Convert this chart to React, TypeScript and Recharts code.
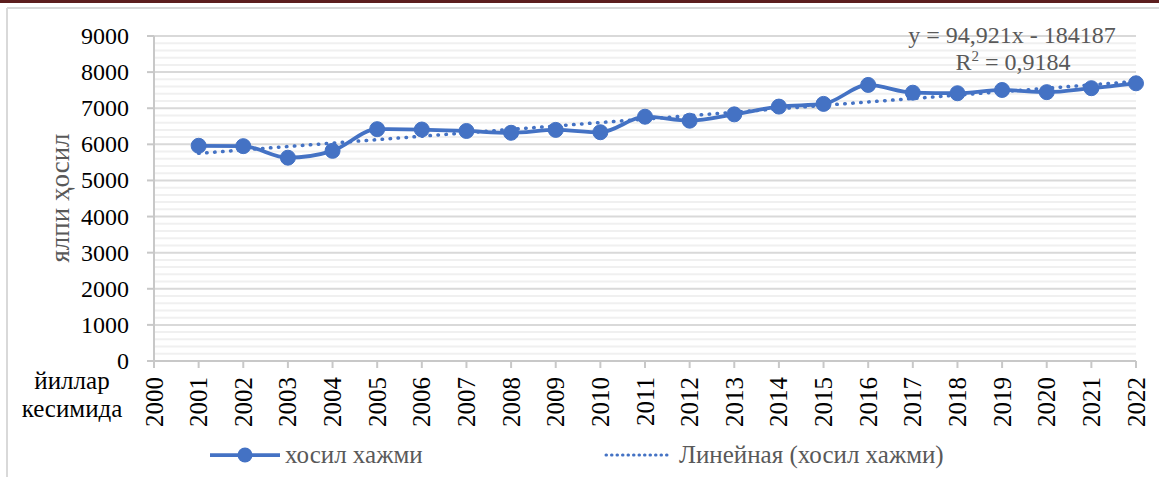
import React from "react";
import { LineChart, Line, XAxis, YAxis, CartesianGrid, Label, ReferenceLine } from "recharts";

const years = [2001, 2002, 2003, 2004, 2005, 2006, 2007, 2008, 2009, 2010, 2011, 2012, 2013, 2014, 2015, 2016, 2017, 2018, 2019, 2020, 2021, 2022];
const harvest = [5960, 5950, 5630, 5820, 6420, 6410, 6370, 6320, 6400, 6335, 6765, 6655, 6830, 7045, 7120, 7645, 7430, 7415, 7505, 7445, 7555, 7690];

// linear trend endpoints (y = 94,921x - 184187)
const trendYears = [2001, 2022];
const trendValues = [5750, 7743];

const xTicks = [2000, ...years];
const yTicks = [0, 1000, 2000, 3000, 4000, 5000, 6000, 7000, 8000, 9000];
const yMinor = [200, 400, 600, 800, 1200, 1400, 1600, 1800, 2200, 2400, 2600, 2800, 3200, 3400, 3600, 3800, 4200, 4400, 4600, 4800, 5200, 5400, 5600, 5800, 6200, 6400, 6600, 6800, 7200, 7400, 7600, 7800, 8200, 8400, 8600, 8800];

const seriesName = "хосил хажми";
const trendName = "Линейная (хосил хажми)";
const yTitle = "ялпи ҳосил";
const xTitle = ["йиллар", "кесимида"];
const eqText = "y = 94,921x - 184187";
const r2Text = "0,9184";

const BLUE = "#4472C4";
const GRAY = "#595959";
const FONT = "'Liberation Serif', 'Times New Roman', serif";

const data = years.map((y, i) => {
  const t = trendYears.indexOf(y);
  return { year: y, value: harvest[i], trend: t >= 0 ? trendValues[t] : null };
});

const YTick = (p: any) => (
  <text x={p.x} y={p.y} textAnchor="end" dominantBaseline="central" fontFamily={FONT} fontSize={24} fill="#000">
    {p.payload.value}
  </text>
);

const XTick = (p: any) => (
  <text
    transform={`translate(${p.x},${377}) rotate(-90)`}
    textAnchor="end"
    dominantBaseline="central"
    fontFamily={FONT}
    fontSize={25}
    fill="#000"
  >
    {p.payload.value}
  </text>
);

export default function App() {
  return (
    <div style={{ position: "absolute", left: 0, top: 0, width: 1159, height: 477, background: "#fff" }}>
      <LineChart width={1159} height={477} data={data} margin={{ top: 36, right: 23, bottom: 0, left: 0 }}>
        {yMinor.map((v) => (
          <ReferenceLine key={v} y={v} stroke="#f0f0f0" strokeWidth={2} />
        ))}
        <CartesianGrid vertical={false} stroke="#d9d9d9" strokeWidth={2} />
        <XAxis
          dataKey="year"
          type="number"
          domain={[2000, 2022]}
          ticks={xTicks}
          interval={0}
          height={116}
          tickSize={7}
          stroke="#c8c8c8"
          strokeWidth={2}
          tick={<XTick />}
        >
          <Label
            content={() => (
              <g fontFamily={FONT} fontSize={25} fill="#000">
                <text x={72} y={389} textAnchor="middle">{xTitle[0]}</text>
                <text x={72} y={417} textAnchor="middle">{xTitle[1]}</text>
              </g>
            )}
          />
        </XAxis>
        <YAxis
          type="number"
          domain={[0, 9000]}
          ticks={yTicks}
          width={154}
          tickSize={7}
          tickMargin={18}
          stroke="#c8c8c8"
          strokeWidth={2}
          tick={<YTick />}
        >
          <Label
            content={() => (
              <text
                transform="translate(60,198) rotate(-90)"
                textAnchor="middle"
                dominantBaseline="central"
                fontFamily={FONT}
                fontSize={27}
                fill={GRAY}
              >
                {yTitle}
              </text>
            )}
          />
        </YAxis>
        <Line
          dataKey="trend"
          name={trendName}
          connectNulls
          dot={false}
          stroke={BLUE}
          strokeWidth={3.5}
          strokeDasharray="0.5 7.5"
          strokeLinecap="round"
          isAnimationActive={false}
        />
        <Line
          dataKey="value"
          name={seriesName}
          type="monotone"
          stroke={BLUE}
          strokeWidth={3.75}
          dot={{ r: 7.5, fill: BLUE, stroke: BLUE, strokeWidth: 1 }}
          isAnimationActive={false}
        />
      </LineChart>
      <svg width={1159} height={477} style={{ position: "absolute", left: 0, top: 0, pointerEvents: "none" }}>
        <rect x={0} y={0} width={1159} height={3} fill="#5c1d1d" />
        <line x1={7} y1={8} x2={1159} y2={8} stroke="#d9d9d9" strokeWidth={2} />
        <line x1={7} y1={8} x2={7} y2={477} stroke="#d9d9d9" strokeWidth={2} />
        <text x={1012} y={43} textAnchor="middle" fontFamily={FONT} fontSize={24} fill={GRAY}>
          {eqText}
        </text>
        <text x={1013} y={70} textAnchor="middle" fontFamily={FONT} fontSize={24} fill={GRAY}>
          R<tspan dy={-9} fontSize={15}>2</tspan>
          <tspan dy={9}>{" = " + r2Text}</tspan>
        </text>
        <line x1={210} y1={455} x2={280} y2={455} stroke={BLUE} strokeWidth={3.75} />
        <circle cx={245} cy={455} r={7.5} fill={BLUE} />
        <text x={285} y={463} fontFamily={FONT} fontSize={25} fill={GRAY}>
          {seriesName}
        </text>
        <line x1={606} y1={455} x2={672} y2={455} stroke={BLUE} strokeWidth={3} strokeDasharray="0.5 5" strokeLinecap="round" />
        <text x={679} y={463} fontFamily={FONT} fontSize={25} fill={GRAY}>
          {trendName}
        </text>
      </svg>
    </div>
  );
}
